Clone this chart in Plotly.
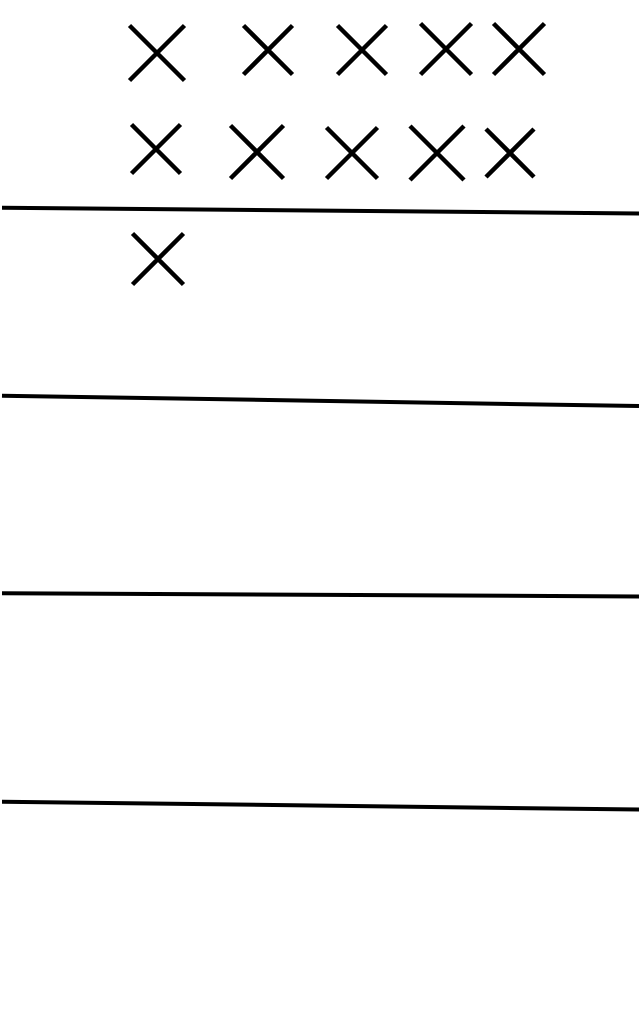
import plotly.graph_objects as go

# Tally marks (centres in canvas units) and their sizes
mark_x = [157, 268, 362, 446, 519, 156, 257, 352, 437, 510, 158]
mark_y = [53, 50, 50, 49, 49, 149, 152, 153, 153, 153, 259]
mark_size = [55, 49, 49, 51, 51, 49, 53, 51, 54, 48, 51]

# Divider lines: y at left end and at right end
line_x = [2, 639]
line_left_y = [207.7, 395.7, 593.3, 801.7]
line_right_y = [213.5, 406, 596.5, 809.5]

W, H = 639, 1012

fig = go.Figure()

for yl, yr in zip(line_left_y, line_right_y):
    fig.add_trace(go.Scatter(
        x=line_x, y=[yl, yr], mode="lines",
        line=dict(color="black", width=4),
        hoverinfo="skip", showlegend=False,
    ))

fig.add_trace(go.Scatter(
    x=mark_x, y=mark_y, mode="markers",
    marker=dict(symbol="x-thin", size=mark_size, opacity=1,
                line=dict(color="#000000", width=4.5), color="#000000"),
    opacity=1,
    hoverinfo="skip", showlegend=False,
))

fig.update_layout(
    width=W, height=H,
    margin=dict(l=0, r=0, t=0, b=0),
    paper_bgcolor="white", plot_bgcolor="white",
    xaxis=dict(range=[0, W], visible=False, fixedrange=True),
    yaxis=dict(range=[H, 0], visible=False, fixedrange=True),
    showlegend=False,
)

fig.write_html("out.html", config={"displayModeBar": False},
               post_script="document.body.style.margin='0';")
